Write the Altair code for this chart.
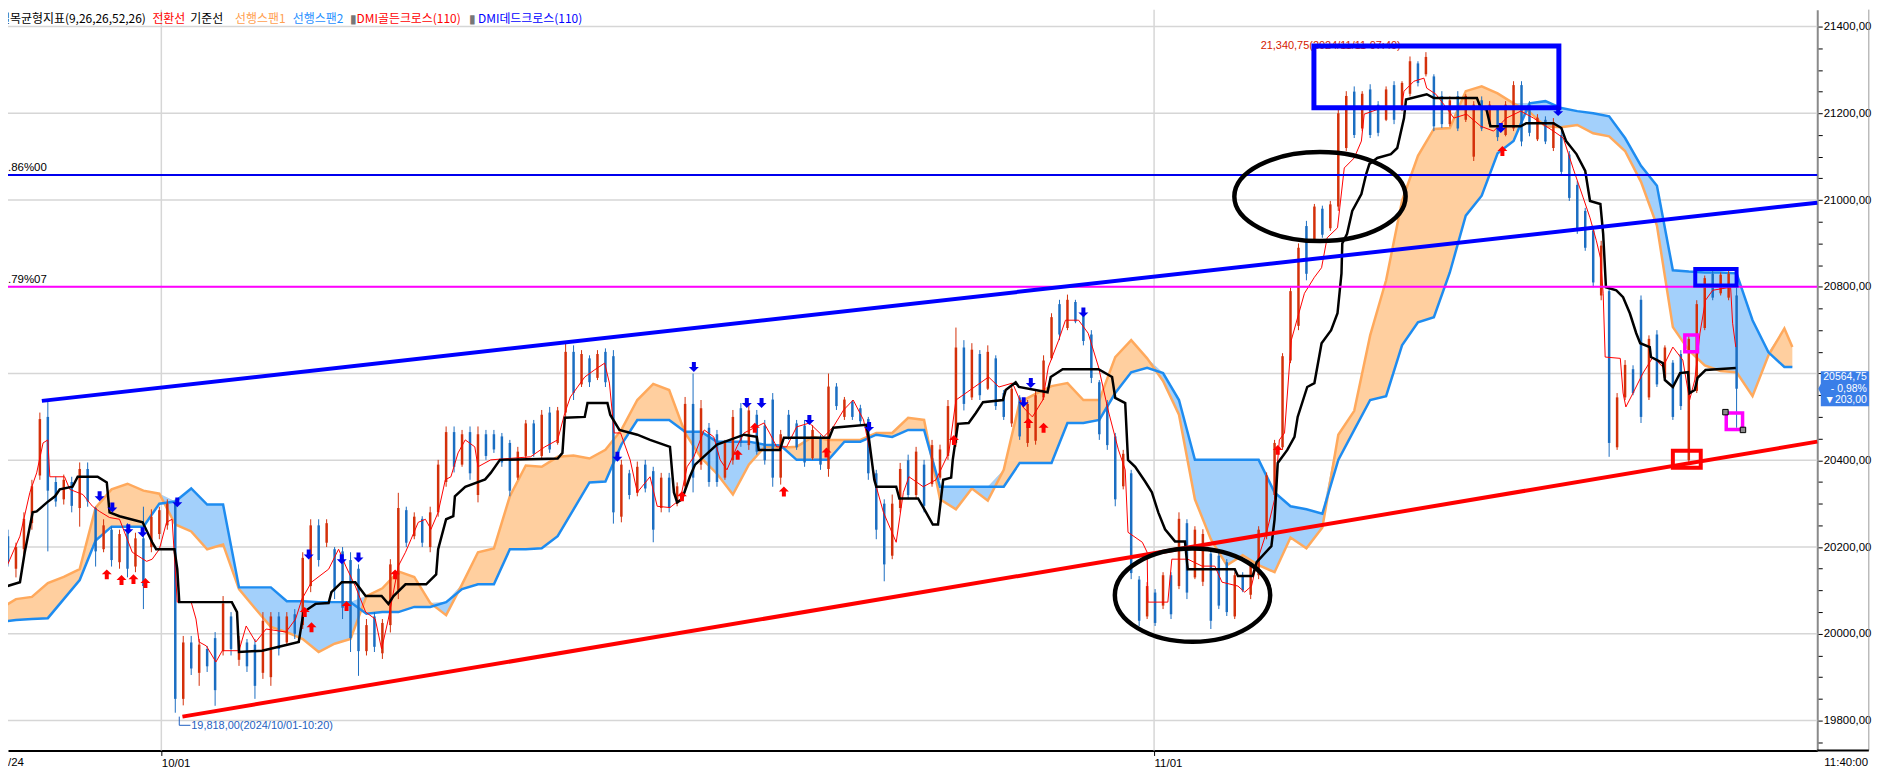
import altair as alt
import pandas as pd

# ---------------- data ----------------
# one candle every 8 px of the source chart (index = bar number)
bar_open = [20135,20225,20150,20195,20255,20365,20500,20350,20310,20350,
20290,20380,20290,20195,20240,20165,20235,20155,20220,20200,
20230,20250,20300,19850,19980,19910,19965,19990,19960,20040,
19940,19980,19975,19910,19900,20040,19980,20045,20020,20110,
20250,20210,20195,20190,20170,20150,19960,20040,19955,20020,
20100,20285,20225,20265,20200,20280,20350,20465,20390,20465,
20320,20460,20460,20455,20440,20360,20410,20485,20410,20510,
20440,20510,20650,20575,20635,20590,20650,20640,20270,20370,
20325,20390,20375,20290,20360,20300,20340,20530,20390,20475,
20460,20360,20400,20520,20435,20505,20480,20540,20360,20505,
20485,20480,20405,20450,20380,20570,20500,20535,20520,20495,
20370,20300,20180,20290,20400,20320,20390,20345,20360,20410,
20440,20660,20545,20645,20565,20635,20555,20485,20545,20440,
20445,20545,20635,20760,20705,20765,20740,20690,20580,20530,
20455,20340,20370,20125,20040,20095,20065,20135,20110,20255,
20130,20120,20185,20180,20165,20040,20135,20090,20135,20225,
20320,20430,20630,20710,20940,20910,20980,20935,20985,21120,
21250,21165,21255,21220,21185,21265,21210,21245,21315,21290,
21285,21240,21175,21240,21185,21100,21230,21175,21210,21150,
21165,21265,21220,21140,21185,21120,21150,21105,21035,20975,
20930,20780,20790,20430,20545,20610,20770,20545,20690,20590,
20625,20645,20400,20560,20705,20830,20785,20775,20780]
bar_close = [20205,20165,20200,20265,20340,20495,20330,20305,20355,20295,
20380,20305,20190,20250,20170,20230,20150,20220,20110,20270,
20285,20300,19850,19980,19920,19975,19925,19870,20070,19965,
19985,19925,19880,20030,20040,19965,20040,20000,20175,20250,
20170,20255,20100,20060,19990,19960,20020,19970,20025,20160,
20290,20210,20270,20210,20280,20390,20465,20385,20460,20370,
20460,20410,20425,20395,20330,20420,20485,20415,20505,20425,
20515,20650,20555,20645,20580,20645,20580,20280,20390,20320,
20385,20335,20240,20360,20290,20340,20530,20360,20520,20350,
20350,20440,20500,20440,20515,20420,20400,20360,20460,20455,
20430,20395,20470,20390,20570,20525,20540,20500,20490,20370,
20240,20160,20300,20380,20320,20420,20295,20435,20425,20525,
20660,20530,20655,20550,20650,20525,20500,20565,20455,20530,
20550,20630,20730,20690,20770,20720,20675,20590,20460,20435,
20310,20415,20140,20030,20110,20025,20135,20045,20265,20095,
20240,20230,20030,20065,20050,20135,20100,20160,20240,20365,
20440,20640,20790,20890,20830,20985,20920,20990,21200,21240,
21150,21245,21150,21155,21255,21185,21270,21320,21270,21330,
21170,21175,21230,21165,21240,21220,21165,21220,21145,21220,
21265,21135,21155,21190,21135,21180,21065,21005,20930,20890,
20810,20895,20440,20545,20620,20555,20500,20680,20575,20660,
20500,20525,20680,20760,20820,20775,20828,20830,20565]
bar_high = [20225,20240,20210,20280,20355,20510,20537,20362,20367,20362,
20395,20395,20293,20264,20247,20240,20255,20233,20293,20287,
20293,20310,20310,19995,19995,19988,19972,20004,20087,20050,
19995,19988,19988,20050,20050,20050,20050,20057,20188,20264,
20264,20264,20200,20200,20188,20160,20034,20050,20034,20172,
20325,20293,20280,20271,20293,20401,20478,20478,20470,20478,
20478,20470,20470,20463,20447,20431,20493,20493,20516,20523,
20523,20672,20665,20654,20642,20654,20658,20654,20401,20378,
20397,20401,20385,20371,20371,20349,20546,20600,20539,20486,
20470,20447,20516,20532,20528,20516,20493,20555,20470,20516,
20493,20493,20481,20459,20600,20578,20546,20539,20528,20500,
20378,20310,20321,20394,20413,20431,20401,20447,20436,20539,
20706,20677,20670,20654,20665,20642,20562,20573,20550,20539,
20562,20642,20739,20770,20782,20770,20746,20700,20585,20539,
20463,20424,20378,20133,20119,20103,20142,20142,20280,20264,
20248,20241,20195,20188,20172,20142,20142,20165,20248,20372,
20447,20647,20798,20900,20952,20991,20987,20998,21212,21251,
21262,21251,21267,21228,21262,21274,21274,21331,21320,21341,
21290,21251,21239,21251,21244,21228,21239,21228,21216,21228,
21274,21274,21228,21198,21193,21189,21159,21113,21044,20982,
20936,20906,20799,20555,20631,20619,20780,20688,20700,20665,
20631,20654,20690,20769,20826,20838,20833,20838,20800]
bar_low = [20120,20155,20130,20180,20240,20355,20190,20293,20298,20280,
20247,20293,20155,20188,20155,20150,20130,20142,20057,20188,
20218,20240,19818,19835,19905,19880,19912,19834,19950,19950,
19926,19912,19850,19896,19880,19950,19972,19988,20011,20096,
20155,20200,20080,20034,19958,19903,19950,19958,19942,20003,
20080,20200,20218,20200,20188,20270,20339,20372,20385,20355,
20303,20401,20417,20385,20317,20355,20401,20408,20401,20417,
20436,20500,20539,20569,20569,20585,20569,20254,20257,20310,
20317,20326,20211,20280,20280,20294,20326,20326,20378,20339,
20339,20355,20390,20431,20424,20413,20390,20339,20344,20447,
20424,20385,20401,20378,20362,20516,20493,20493,20482,20355,
20218,20121,20172,20280,20310,20310,20280,20339,20355,20401,
20431,20515,20539,20539,20562,20516,20493,20477,20447,20431,
20436,20539,20631,20677,20700,20716,20665,20578,20447,20424,
20294,20333,20126,20018,20034,20018,20057,20034,20103,20080,
20126,20110,20011,20057,20041,20034,20096,20080,20126,20218,
20310,20424,20624,20700,20815,20906,20913,20929,20975,21113,
21143,21159,21143,21147,21182,21175,21205,21239,21262,21285,
21159,21166,21170,21159,21180,21090,21159,21170,21136,21147,
21159,21124,21147,21136,21129,21113,21056,20998,20922,20883,
20799,20769,20408,20424,20539,20550,20486,20539,20569,20585,
20493,20516,20394,20555,20700,20769,20780,20769,20475]

# 기준선 (base line)
kijun_idx = [0,0.9,2.5,3.1,4.1,4.6,5.9,6.9,7.5,9.1,
9.75,12.25,13.4,13.75,15,17.9,19.1,19.6,21.9,22.25,
22.5,29.1,29.75,30,32.9,35.4,37.5,38.1,39.6,41.25,
41.6,42.9,44.6,45.9,47.9,48.75,49.4,50.9,53.5,54.75,
55,56,56.9,57.1,58.4,60.9,61.6,62.75,70,70.6,
70.9,73.4,73.75,76.25,76.6,77.75,80,81.6,84.1,84.6,
85,85.6,86.6,87.25,90,93.4,95,95.25,97.9,98.4,
104.1,104.6,108.75,109.1,109.75,110,112.5,112.9,115.25,116.25,
117.1,117.75,118.4,119.4,119.6,120.25,121.6,122.5,123.4,125.9,
126.25,127.5,127.9,131.5,131.9,133.4,137.9,139.6,140,141.25,
141.6,142.5,143.75,144.6,145.4,146.25,147.5,148.75,149.1,155,
155.4,157.25,157.75,159.6,160,160.4,161.6,162.5,162.9,164.1,
165,165.9,167.1,167.9,168.4,168.5,169.1,169.75,170.9,171.5,
171.9,172.9,174.6,175.4,176.25,176.5,179.1,180,185.4,185.9,
186.6,187.1,190.9,191.6,195,196,196.6,197.9,199,199.6,
200.9,201.25,201.6,202.9,203.75,204.6,205.4,205.9,207.1,207.25,
208.75,209,210,210.9,211.9,212.1,212.75,213.1,214.1,217.9]
kijun_val = [20087,20110,20119,20188,20280,20282,20303,20317,20333,20339,
20362,20362,20349,20280,20271,20257,20211,20195,20195,20149,
20073,20073,20050,19958,19961,19972,19981,20050,20069,20071,
20096,20119,20119,20087,20087,20069,20087,20114,20114,20137,
20195,20264,20271,20317,20339,20356,20371,20401,20404,20417,
20498,20500,20532,20532,20505,20470,20459,20447,20431,20326,
20303,20310,20362,20390,20436,20459,20454,20424,20424,20452,
20452,20475,20482,20447,20355,20339,20339,20312,20312,20280,
20252,20252,20355,20360,20401,20484,20486,20509,20534,20539,
20562,20580,20569,20557,20592,20610,20610,20592,20544,20532,
20401,20385,20351,20326,20280,20241,20213,20213,20149,20149,
20133,20133,20165,20202,20264,20394,20424,20454,20500,20569,
20578,20670,20700,20739,20831,20900,20922,20975,21014,21060,
21083,21097,21106,21120,21189,21232,21244,21235,21235,21212,
21209,21170,21170,21177,21177,21166,21136,21106,21067,20998,
20991,20922,20799,20792,20776,20739,20693,20670,20661,20638,
20624,20585,20569,20601,20603,20555,20562,20590,20608,20613]

# 전환선 (conversion line)
tenkan_idx = [0,1.25,2.5,3.75,4.6,5.4,6,6.25,8.1,8.75,
10.4,11.6,12.5,13.75,15,16.6,18.4,19.1,20,20.9,
21.6,22.25,24,24.6,25,25.9,27.1,27.9,30,30.9,
32.1,33.4,35.9,37.1,37.9,39.1,41.25,42.5,43.4,44.6,
45.9,47.1,47.9,48.75,50,50.9,51.6,52.5,53.4,54.1,
55,55.9,56.6,57.5,58.4,59.6,60,61.6,66.6,68.4,
70,70.9,71.6,73.4,74.6,75.9,76.5,77.1,77.9,79.1,
80,81.6,82.5,84.1,85.4,86.25,87.1,88.4,89.6,90.4,
91.25,92.5,93.4,95.9,96.6,97.5,98.75,100,101.6,103.4,
104.6,105.9,107.1,108.4,109.1,110,110.9,112.5,113.4,114.1,
115.9,117.5,119.1,120,121.25,124.1,125.4,127.1,128.4,129.6,
130.9,131.6,132.9,133.75,135.4,136.6,137.9,139.1,140.4,141.25,
141.6,143.4,144,144.1,146.6,147.1,149.1,150.9,152.5,153.4,
155.4,156.25,157.1,157.9,159.1,160,160.6,161.25,162.1,163.75,
165,165.9,166.6,167.9,168.75,170,170.9,171.25,173.4,175.9,
176.25,177.5,178.75,179.1,180.25,181.6,182.5,184.1,185.9,187.5,
189.1,190.9,192.5,195,196.25,197.5,198.75,199.6,200.4,200.9,
201.25,201.5,203.4,203.75,204.1,205,206.25,207.5,208.75,210,
211.25,212.1,212.75,213.4,214.1,215,217.25,217.5,217.9]
tenkan_val = [20119,20172,20225,20326,20371,20440,20447,20362,20362,20333,
20321,20294,20282,20268,20264,20188,20167,20172,20195,20257,
20264,20073,20073,20034,19981,19972,19935,19961,19961,20018,
19981,20011,20004,20034,20080,20119,20149,20195,20156,20110,
20050,20034,19965,20034,20156,20188,20218,20257,20264,20241,
20280,20355,20362,20417,20447,20431,20385,20401,20408,20431,
20447,20509,20546,20592,20608,20624,20578,20463,20463,20401,
20326,20362,20294,20291,20310,20385,20408,20470,20454,20401,
20378,20431,20463,20486,20463,20431,20431,20477,20486,20454,
20477,20516,20539,20493,20431,20339,20280,20211,20326,20362,
20339,20355,20417,20539,20555,20592,20569,20578,20523,20500,
20539,20615,20677,20723,20723,20693,20615,20516,20424,20378,
20234,20211,20188,20073,20073,20172,20172,20156,20156,20119,
20110,20096,20110,20172,20241,20310,20447,20463,20677,20785,
20822,20844,20913,20936,21074,21097,21136,21198,21212,21212,
21251,21274,21281,21258,21244,21212,21189,21198,21170,21159,
21189,21205,21189,21159,21143,21072,21005,20959,20906,20867,
20785,20638,20635,20555,20523,20555,20601,20638,20615,20661,
20631,20539,20585,20693,20769,20792,20799,20716,20661]

# 선행스팬1 / 선행스팬2 (read every 2 bars, cloud runs 26 bars ahead)
span_idx = list(range(0, 225, 2)) + [225]
span1 = [20057,20080,20085,20117,20131,20149,20291,20333,20346,20330,
20323,20252,20236,20195,20206,20103,20059,20016,20004,19988,
19958,19977,19988,20087,20105,20144,20131,20071,20043,20114,
20188,20197,20317,20388,20385,20408,20411,20404,20424,20470,
20539,20576,20562,20463,20406,20369,20321,20390,20431,20429,
20431,20454,20447,20447,20447,20463,20463,20498,20493,20310,
20287,20335,20307,20378,20534,20553,20571,20578,20539,20539,
20638,20677,20635,20583,20505,20310,20218,20158,20181,20158,
20142,20222,20197,20245,20459,20514,20688,20815,20998,21102,
21164,21166,21251,21262,21246,21223,21203,21170,21168,21173,
21154,21147,21113,21042,20941,20707,20654,20619,20606,20603,
20548,20642,20704,20661]
span2 = [20027,20032,20034,20036,20080,20124,20215,20247,20247,20247,
20300,20305,20335,20298,20298,20107,20107,20107,20075,20075,
20073,20073,20073,20046,20050,20050,20062,20062,20073,20103,
20114,20114,20195,20195,20197,20225,20287,20349,20351,20436,
20493,20493,20493,20466,20466,20443,20443,20443,20436,20434,
20401,20401,20401,20443,20443,20459,20454,20470,20470,20339,
20339,20339,20339,20339,20394,20394,20394,20486,20486,20493,
20555,20603,20613,20601,20539,20401,20401,20401,20401,20401,
20326,20294,20287,20277,20401,20470,20539,20548,20665,20718,
20730,20833,20964,21010,21108,21136,21223,21228,21212,21205,
21200,21193,21143,21079,21033,20838,20835,20833,20833,20831,
20723,20649,20615,20615]

# DMI cross signals
dmi_dn_idx = [12.5,14.1,16.1,17.9,22.25,38.75,42.9,45,77.5,87.1,93.75,95.6,101.6,109.1,128.5,129.4,136,188.4,195.6]
dmi_dn_val = [20317,20291,20241,20234,20303,20183,20172,20176,20408,20615,20532,20532,20493,20477,20534,20578,20741,21166,21205]
dmi_up_idx = [13.4,15.25,16.75,18.25,38.25,39.1,43.5,49.6,85.6,92.6,94.75,98.4,103.75,119.75,129.1,131,160.4,188.6]
dmi_up_val = [20137,20124,20126,20117,20050,20015,20064,20137,20317,20413,20475,20328,20418,20447,20486,20475,20424,21113]

# drawn trend lines / levels
trend_idx1 = [5.25, 22.9]
trend_val1 = [20537, 19809]
trend_idx2 = [228.125, 228.125]
trend_val2 = [20994, 20443]
trend_col = ["#0000ff", "#ff0000"]
level_val = [21058, 20800]
level_col = ["#0000ee", "#ff00ff"]
level_lbl = [".86%00", ".79%07"]
grid_val = [19800, 20000, 20200, 20400, 20600, 20800, 21000, 21200, 21400]
date_idx = [20.25, 144.875]

# annotation boxes
box_i1 = [164.94, 212.81, 211.5, 216.7, 210.0]
box_i2 = [195.69, 218.0, 213.1, 218.75, 213.5]
box_p1 = [21355, 20841, 20689, 20509, 20422]
box_p2 = [21213, 20803, 20650, 20471, 20383]
box_col = ["#0000ff", "#0000ff", "#ff00ff", "#ff00ff", "#ff0000"]
box_sw = [5, 4, 3.5, 3.5, 4]

last_price = 20564.75

# ---------------- chart ----------------
NUM = "Liberation Sans, Arial, sans-serif"
KR = "Noto Sans CJK KR, Noto Sans, sans-serif"
UP_C = "#d4300a"
DN_C = "#1b6ec2"

xs = alt.Scale(domain=[1, 228.125], nice=False, zero=False)
ys = alt.Scale(domain=[19731.0, 21439.0], nice=False, zero=False)
x_axis = alt.Axis(orient="bottom", values=date_idx,
                  labelExpr="datum.value < 100 ? '10/01' : '11/01'",
                  labelAlign="left", labelBaseline="top", labelPadding=2,
                  labelFont=NUM, labelFontSize=11.5, labelColor="black",
                  tickSize=5, tickColor="black", domainColor="black", domainWidth=2,
                  grid=False, title=None, labelFlush=False, labelOverlap=False)
y_axis = alt.Axis(orient="right", values=list(range(19750, 21401, 50)),
                  labelExpr="(datum.value % 200 == 0 && datum.value != 20600) ? replace(format(datum.value, '.2f'), '.', ',') : ''",
                  labelFont=NUM, labelFontSize=11.5, labelColor="black", labelPadding=1,
                  tickSize=5, tickColor="black", domainColor="#8a8a8a", domainWidth=2,
                  grid=False, title=None, labelFlush=False, labelOverlap=False)


def X(f):
    return alt.X(f, type="quantitative", scale=xs, axis=x_axis)


def Y(f):
    return alt.Y(f, type="quantitative", scale=ys, axis=y_axis)


n = min(len(bar_open), len(bar_high), len(bar_low), len(bar_close))
bars = pd.DataFrame({"idx": list(range(n)), "open": bar_open[:n], "high": bar_high[:n],
                     "low": bar_low[:n], "close": bar_close[:n]})
bars["dir"] = ["up" if c >= o else "down" for o, c in zip(bars["open"], bars["close"])]
dir_color = alt.Color("dir:N", scale=alt.Scale(domain=["up", "down"], range=[UP_C, DN_C]), legend=None)

spans = pd.DataFrame({"idx": span_idx, "s1": span1, "s2": span2})
kijun = pd.DataFrame({"idx": kijun_idx, "v": kijun_val})
tenkan = pd.DataFrame({"idx": tenkan_idx, "v": tenkan_val})

layers = []
# grid
layers.append(alt.Chart(pd.DataFrame({"p": grid_val})).mark_rule(color="#d6d6d6", strokeWidth=1.5).encode(y=Y("p")))
layers.append(alt.Chart(pd.DataFrame({"i": date_idx})).mark_rule(color="#d6d6d6", strokeWidth=1.5).encode(x=X("i")))

# cloud
cloud = alt.Chart(spans).transform_calculate(top="max(datum.s1, datum.s2)")
layers.append(cloud.mark_area(color="#ffcf9f", opacity=1).encode(x=X("idx"), y=Y("s2"), y2=alt.Y2("top:Q")))
layers.append(cloud.mark_area(color="#a3d0fb", opacity=1).encode(x=X("idx"), y=Y("s1"), y2=alt.Y2("top:Q")))
layers.append(alt.Chart(spans).mark_line(color="#ffa95c", strokeWidth=2.5).encode(x=X("idx"), y=Y("s1")))
layers.append(alt.Chart(spans).mark_line(color="#1e8cf0", strokeWidth=2.5).encode(x=X("idx"), y=Y("s2")))

# candles
layers.append(alt.Chart(bars).mark_rule(strokeWidth=1).encode(x=X("idx"), y=Y("low"), y2=alt.Y2("high"), color=dir_color))
layers.append(alt.Chart(bars).mark_rule(strokeWidth=2.5).encode(x=X("idx"), y=Y("open"), y2=alt.Y2("close"), color=dir_color))

# ichimoku lines
layers.append(alt.Chart(tenkan).mark_line(color="#ff0000", strokeWidth=1).encode(x=X("idx"), y=Y("v")))
layers.append(alt.Chart(kijun).mark_line(color="#000000", strokeWidth=2.5).encode(x=X("idx"), y=Y("v")))

# levels and trend lines
lv = pd.DataFrame({"p": level_val, "c": level_col, "t": level_lbl})
layers.append(alt.Chart(lv).mark_rule(strokeWidth=2).encode(y=Y("p"), color=alt.Color("c:N", scale=None)))
layers.append(alt.Chart(lv).mark_text(align="left", baseline="alphabetic", dy=-4, font=NUM, fontSize=11.5, color="black")
              .encode(x=alt.value(0), y=Y("p"), text="t:N"))
tr = pd.DataFrame({"i1": trend_idx1, "p1": trend_val1, "i2": trend_idx2, "p2": trend_val2, "c": trend_col})
layers.append(alt.Chart(tr).mark_rule(strokeWidth=4).encode(x=X("i1"), x2=alt.X2("i2"), y=Y("p1"), y2=alt.Y2("p2"),
                                                             color=alt.Color("c:N", scale=None)))

# high / low notes
notes = pd.DataFrame({"idx": [158.25, 24.0], "p": [21349, 19781],
                      "t": ["21,340,75(2024/11/11-07:40)", "19,818,00(2024/10/01-10:20)"],
                      "c": ["#d42000", "#1f5fbf"]})
layers.append(alt.Chart(notes).mark_text(align="left", baseline="alphabetic", font=NUM, fontSize=11)
              .encode(x=X("idx"), y=Y("p"), text="t:N", color=alt.Color("c:N", scale=None)))
conn = pd.DataFrame({"i1": [22.5, 22.5], "p1": [19809, 19789], "i2": [22.5, 23.9], "p2": [19789, 19789]})
layers.append(alt.Chart(conn).mark_rule(color="#1f5fbf", strokeWidth=1).encode(x=X("i1"), x2=alt.X2("i2"), y=Y("p1"), y2=alt.Y2("p2")))

# ellipses
E1 = "M1,0 C1,0.287 0.552,0.52 0,0.52 C-0.552,0.52 -1,0.287 -1,0 C-1,-0.287 -0.552,-0.52 0,-0.52 C0.552,-0.52 1,-0.287 1,0 Z"
E2 = "M1,0 C1,0.331 0.552,0.6 0,0.6 C-0.552,0.6 -1,0.331 -1,0 C-1,-0.331 -0.552,-0.6 0,-0.6 C0.552,-0.6 1,-0.331 1,0 Z"
layers.append(alt.Chart(pd.DataFrame({"i": [165.7], "p": [21008]})).mark_point(
    shape=E1, size=29584, filled=False, strokeWidth=4.5, color="black", opacity=1).encode(x=X("i"), y=Y("p")))
layers.append(alt.Chart(pd.DataFrame({"i": [149.7], "p": [20089]})).mark_point(
    shape=E2, size=24336, filled=False, strokeWidth=4.5, color="black", opacity=1).encode(x=X("i"), y=Y("p")))

# boxes
bx = pd.DataFrame({"i1": box_i1, "i2": box_i2, "p1": box_p1, "p2": box_p2, "c": box_col, "w": box_sw})
layers.append(alt.Chart(bx).mark_rect(fillOpacity=0).encode(
    x=X("i1"), x2=alt.X2("i2"), y=Y("p1"), y2=alt.Y2("p2"),
    stroke=alt.Stroke("c:N", scale=None), strokeWidth=alt.StrokeWidth("w:Q", scale=None)))
layers.append(alt.Chart(pd.DataFrame({"i": [216.6, 218.8], "p": [20511, 20470]})).mark_point(
    shape="square", size=30, filled=True, color="#8c8c8c", stroke="black", strokeWidth=1, opacity=1).encode(x=X("i"), y=Y("p")))

# DMI arrows
UP = "M0,-1 L1,0 L0.4,0 L0.4,1 L-0.4,1 L-0.4,0 L-1,0 Z"
DN = "M0,1 L1,0 L0.4,0 L0.4,-1 L-0.4,-1 L-0.4,0 L-1,0 Z"
layers.append(alt.Chart(pd.DataFrame({"i": dmi_up_idx, "p": dmi_up_val})).mark_point(
    shape=UP, size=100, filled=True, color="#ff0000", opacity=1).encode(x=X("i"), y=Y("p")))
layers.append(alt.Chart(pd.DataFrame({"i": dmi_dn_idx, "p": dmi_dn_val})).mark_point(
    shape=DN, size=100, filled=True, color="#0000ee", opacity=1).encode(x=X("i"), y=Y("p")))

# right-side frame, bottom line, price tag
layers.append(alt.Chart(pd.DataFrame({"i": [234.6]})).mark_rule(color="#9a9a9a", strokeWidth=1).encode(x=X("i")))
layers.append(alt.Chart(pd.DataFrame({"i1": [228.125], "i2": [234.6]})).mark_rule(color="black", strokeWidth=2)
              .encode(x=X("i1"), x2=alt.X2("i2"), y=alt.value(744)))
TAG = "M-0.9,-0.69 L1,-0.69 L1,0.69 L-0.9,0.69 L-0.9,0.2 L-1,0 L-0.9,-0.2 Z"
tag = pd.DataFrame({"i": [231.44], "p": [last_price]})
layers.append(alt.Chart(tag).mark_point(shape=TAG, size=2601, filled=True, color="#3a7ee8", opacity=1)
              .encode(x=X("i"), y=Y("p")))
tag_lines = [("20564,75", -11.5), ("- 0,98%", 0), ("\u25bc203,00", 11)]
for txt, off in tag_lines:
    layers.append(alt.Chart(pd.DataFrame({"i": [234.35], "p": [last_price]})).mark_text(
        align="right", baseline="middle", dy=off, font=NUM, fontSize=10.5, color="white", text=txt)
        .encode(x=X("i"), y=Y("p")))

# bottom date stubs
layers.append(alt.Chart(pd.DataFrame({"t": ["/24"]})).mark_text(
    align="left", baseline="top", font=NUM, fontSize=11.5, color="black")
    .encode(x=alt.value(0), y=alt.value(751), text="t:N"))
layers.append(alt.Chart(pd.DataFrame({"t": ["11:40:00"]})).mark_text(
    align="right", baseline="top", font=NUM, fontSize=11.5, color="black")
    .encode(x=alt.value(1868), y=alt.value(751), text="t:N"))

# header legend
legend_items = [("일목균형지표(9,26,26,52,26)", "#000000", -9),
                ("전환선", "#ff0000", 145), ("기준선", "#000000", 183),
                ("선행스팬1", "#ffa050", 228), ("선행스팬2", "#1e8fff", 286),
                ("\u25ae", "#777777", 343), ("DMI골든크로스(110)", "#ff0000", 350),
                ("\u25ae", "#777777", 463), ("DMI데드크로스(110)", "#0000ff", 472)]
for txt, col, px in legend_items:
    layers.append(alt.Chart(pd.DataFrame({"t": [txt]})).mark_text(
        align="left", baseline="top", font=KR, fontSize=12, color=col)
        .encode(x=alt.value(px), y=alt.value(4), text="t:N"))

chart = alt.layer(*layers).properties(
    width=1817, height=744,
    padding={"left": 0, "top": 0, "right": 58, "bottom": 23},
    autosize=alt.AutoSizeParams(type="none"),
).configure_view(strokeWidth=0)

chart.save("out.html", embed_options={"renderer": "svg", "actions": False})
